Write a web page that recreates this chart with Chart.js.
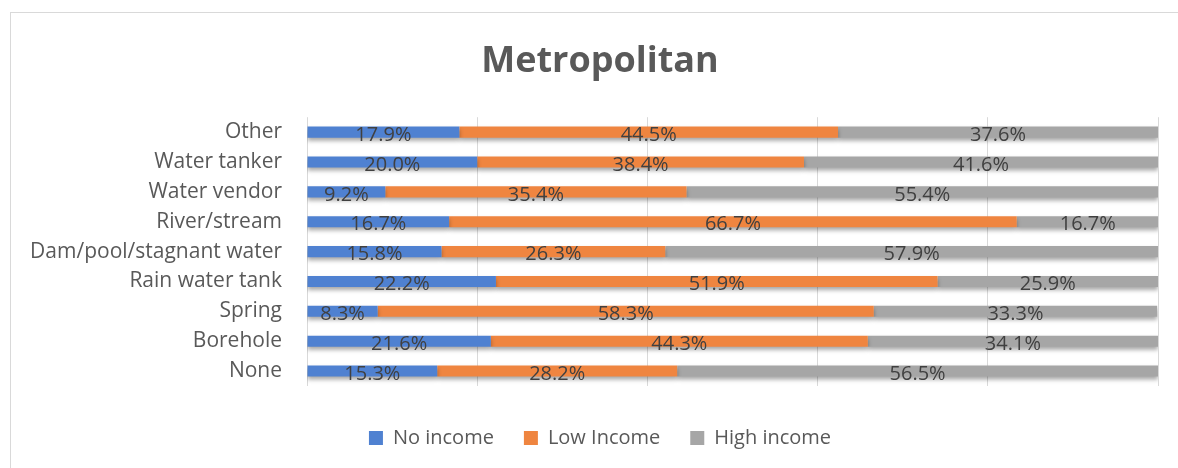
<!DOCTYPE html>
<html>
<head>
<meta charset="utf-8">
<script src="https://cdn.jsdelivr.net/npm/chart.js@4.4.1/dist/chart.umd.min.js"></script>
<style>
    html, body { margin: 0; padding: 0; background: #fff; }
    #wrap { position: relative; width: 1178px; height: 468px; overflow: hidden; }
    #frame { position: absolute; left: 10px; top: 12px; width: 1300px; height: 600px; border: 1px solid #d9d9d9; box-sizing: border-box; }
    canvas { position: absolute; left: 0; top: 0; }
</style>
</head>
<body>
<div id="wrap">
    <div id="frame"></div>
    <canvas id="chart" width="1200" height="468"></canvas>
</div>
<script>
const categories = [ 'Other', 'Water tanker', 'Water vendor', 'River/stream', 'Dam/pool/stagnant water', 'Rain water tank', 'Spring', 'Borehole', 'None' ];
const noIncome = [ 17.9, 20.0, 9.2, 16.7, 15.8, 22.2, 8.3, 21.6, 15.3 ];
const lowIncome = [ 44.5, 38.4, 35.4, 66.7, 26.3, 51.9, 58.3, 44.3, 28.2 ];
const highIncome = [ 37.6, 41.6, 55.4, 16.7, 57.9, 25.9, 33.3, 34.1, 56.5 ];
const seriesNames = [ 'No income', 'Low Income', 'High income' ];
const xTicks = [ 0, 20, 40, 60, 80, 100 ];

const FONT = '"Open Sans", sans-serif';

// shadow under the bars and the value labels in each segment
const barExtras = {
    id: 'barExtras',
    beforeDatasetsDraw( chart )
    {
        const ctx = chart.ctx;
        ctx.save();
        ctx.shadowColor = 'rgba(0, 0, 0, 0.35)';
        ctx.shadowOffsetY = 3;
        ctx.shadowBlur = 4;
    },
    afterDatasetsDraw( chart )
    {
        const ctx = chart.ctx;
        ctx.restore();
        ctx.save();
        ctx.font = '20px ' + FONT;
        ctx.fillStyle = '#404040';
        ctx.textAlign = 'center';
        ctx.textBaseline = 'middle';
        chart.data.datasets.forEach( function ( ds, i )
        {
            chart.getDatasetMeta( i ).data.forEach( function ( bar, j )
            {
                const cx = ( bar.x + bar.base ) / 2;
                ctx.fillText( ds.data[ j ].toFixed( 1 ) + '%', cx, bar.y + 3 );
            } );
        } );
        ctx.restore();
    }
};

document.addEventListener( 'DOMContentLoaded', function ()
{
    const ctx = document.getElementById( 'chart' );
    new Chart( ctx, {
        type: 'bar',
        data: {
            labels: categories,
            datasets: [
                { label: seriesNames[ 0 ], data: noIncome, backgroundColor: '#4f81d1' },
                { label: seriesNames[ 1 ], data: lowIncome, backgroundColor: '#ef8540' },
                { label: seriesNames[ 2 ], data: highIncome, backgroundColor: '#a6a6a6' }
            ]
        },
        options: {
            indexAxis: 'y',
            responsive: false,
            animation: false,
            barPercentage: 0.37,
            categoryPercentage: 1,
            layout: { padding: { top: 40, left: 10, right: 10, bottom: 10 } },
            scales: {
                x: {
                    stacked: true,
                    min: 0,
                    max: 100,
                    afterBuildTicks: function ( axis )
                    {
                        axis.ticks = xTicks.map( v => ( { value: v } ) );
                    },
                    afterFit: function ( axis ) { axis.height = 12; },
                    ticks: { display: false },
                    grid: { color: '#d9d9d9', drawTicks: false },
                    border: { display: false }
                },
                y: {
                    stacked: true,
                    afterFit: function ( axis ) { axis.width = 297; },
                    ticks: { color: '#595959', font: { family: FONT, size: 21 }, padding: 25 },
                    grid: { display: false, drawTicks: false },
                    border: { display: false }
                },
                yRight: {
                    type: 'category',
                    position: 'right',
                    afterFit: function ( axis ) { axis.width = 32; },
                    ticks: { display: false },
                    grid: { display: false, drawTicks: false },
                    border: { display: false }
                }
            },
            plugins: {
                title: {
                    display: true,
                    text: 'Metropolitan',
                    color: '#595959',
                    font: { family: FONT, size: 36, weight: 'bold' },
                    padding: { top: 0, bottom: 34 }
                },
                legend: {
                    position: 'bottom',
                    labels: {
                        color: '#595959',
                        font: { family: FONT, size: 20 },
                        boxWidth: 14,
                        boxHeight: 14,
                        padding: 30
                    }
                },
                tooltip: { enabled: false }
            }
        },
        plugins: [ barExtras ]
    } );
} );
</script>
</body>
</html>
